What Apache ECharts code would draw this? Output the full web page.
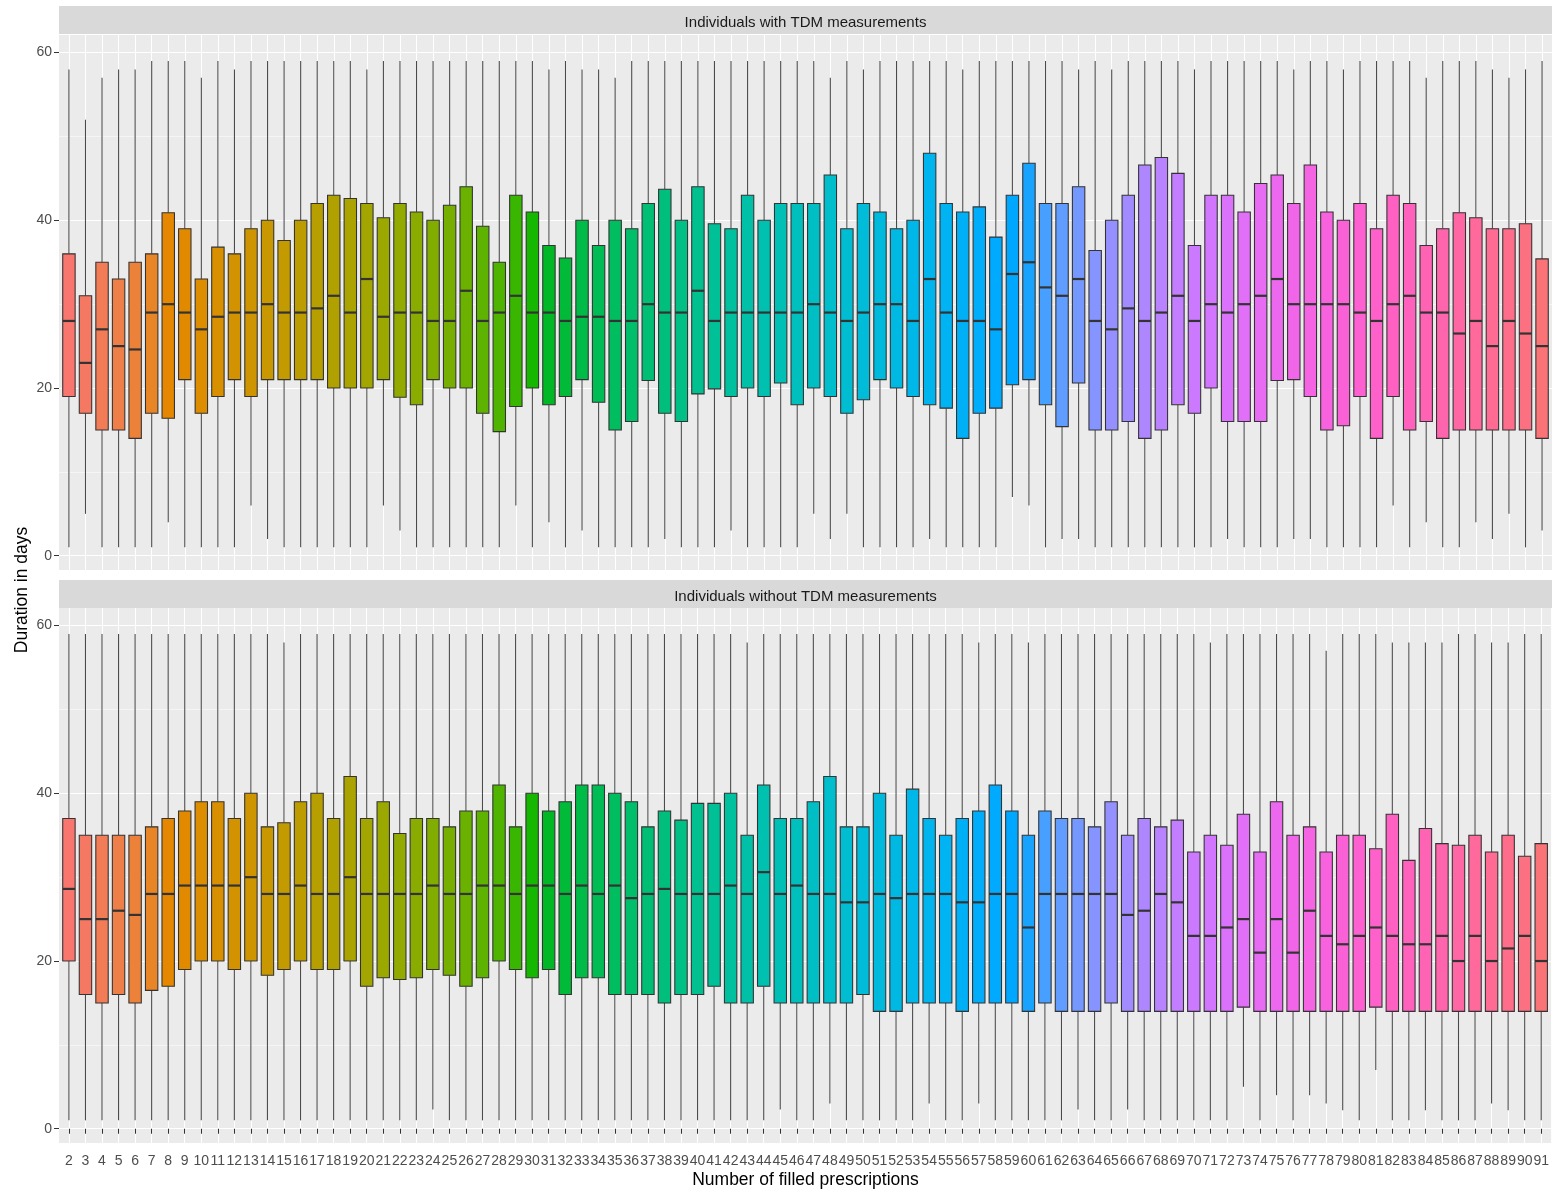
<!DOCTYPE html>
<html>
<head>
<meta charset="utf-8">
<script src="https://cdn.jsdelivr.net/npm/echarts@6/dist/echarts.min.js"></script>
<style>
html,body{margin:0;padding:0;background:#ffffff;}
#chart{width:1552px;height:1192px;}
</style>
</head>
<body>
<div id="chart"></div>
<script>
// ---------------- DATA ----------------
const categories = [
  2,3,4,5,6,7,8,9,10,11,
  12,13,14,15,16,17,18,19,20,21,
  22,23,24,25,26,27,28,29,30,31,
  32,33,34,35,36,37,38,39,40,41,
  42,43,44,45,46,47,48,49,50,51,
  52,53,54,55,56,57,58,59,60,61,
  62,63,64,65,66,67,68,69,70,71,
  72,73,74,75,76,77,78,79,80,81,
  82,83,84,85,86,87,88,89,90,91
];
const yTicks = [0, 20, 40, 60];
const yMinorTicks = [10, 30, 50];
const panelTitles = ['Individuals with TDM measurements', 'Individuals without TDM measurements'];
const xTitle = 'Number of filled prescriptions';
const yTitle = 'Duration in days';

// Panel 1: individuals with TDM measurements
const withLow = [
  1,5,1,1,1,1,4,1,1,1,
  1,6,2,1,1,1,1,1,1,6,
  3,1,1,1,1,1,1,6,1,4,
  1,3,1,1,1,1,2,1,1,1,
  3,1,1,1,1,5,2,5,1,1,
  1,1,2,1,1,1,1,7,6,1,
  2,2,1,1,1,1,1,1,1,1,
  2,1,1,1,2,2,1,1,1,1,
  6,1,4,1,1,4,2,5,1,3
];
const withQ1 = [
  19,17,15,15,14,17,16.4,21,17,19,
  21,19,21,21,21,21,20,20,20,21,
  18.9,18,21,20,20,17,14.8,17.8,20,18,
  19,21,18.3,15,16,20.9,17,16,19.3,19.9,
  19,20,19,20.6,18,20,19,17,18.6,21,
  20,19,18,17.6,14,17,17.6,20.4,21,18,
  15.4,20.6,15,15,16,14,15,18,17,20,
  16,16,16,20.9,21,19,15,15.5,19,14,
  19,15,16,14,15,15,15,15,15,14
];
const withMedian = [
  28,23,27,25,24.6,29,30,29,27,28.5,
  29,29,30,29,29,29.5,31,29,33,28.5,
  29,29,28,28,31.6,28,29,31,29,29,
  28,28.5,28.5,28,28,30,29,29,31.6,28,
  29,29,29,29,29,30,29,28,29,30,
  30,28,33,29,28,28,27,33.6,35,32,
  31,33,28,27,29.5,28,29,31,28,30,
  29,30,31,33,30,30,30,30,29,28,
  30,31,29,29,26.5,28,25,28,26.5,25
];
const withQ3 = [
  36,31,35,33,35,36,40.9,39,33,36.8,
  36,39,40,37.6,40,42,43,42.6,42,40.3,
  42,41,40,41.8,44,39.3,35,43,41,37,
  35.5,40,37,40,39,42,43.7,40,44,39.6,
  39,43,40,42,42,42,45.4,39,42,41,
  39,40,48,42,41,41.6,38,43,46.8,42,
  42,44,36.4,40,43,46.6,47.5,45.6,37,43,
  43,41,44.4,45.4,42,46.6,41,40,42,39,
  43,42,37,39,40.9,40.3,39,39,39.6,35.4
];
const withHigh = [
  58,52,57,58,58,59,59,59,57,59,
  58,59,59,59,59,59,59,59,58,59,
  59,59,59,59,59,59,59,59,59,58,
  59,58,58,57,59,59,59,59,59,59,
  59,59,59,59,59,59,57,59,58,59,
  59,59,59,59,58,59,59,59,59,59,
  59,58,59,58,59,59,59,59,58,59,
  59,59,59,59,58,59,59,58,59,59,
  59,59,57,59,59,59,58,57,58,59
];

// Panel 2: individuals without TDM measurements
const withoutLow = [
  1,1,1,1,1,1,1,1,1,1,
  1,1,1,1,1,1,1,1,1,1,
  1,1,2.3,1,1,1,1,1,1,1,
  1,1,1,1,1,1,1,1,1,1,
  1,1,1,2.3,1,1,3,1,1,1,
  1,1,3,1,1,3,1,1,1,1,
  1,2.3,1,1,2.3,1,1,1,1,1,
  1,5,1,4,1,4,3,2.2,1,7,
  1,1,2.2,1,1,1,3,2.2,1,1
];
const withoutQ1 = [
  20,16,15,16,15,16.5,17,19,20,20,
  19,20,18.3,19,20,19,19,20,17,18,
  17.8,18,19,18.3,17,18,20,19,18,19,
  16,18,18,16,16,16,15,16,16,17,
  15,15,17,15,15,15,15,15,16,14,
  14,15,15,15,14,15,15,15,14,15,
  14,14,14,15,14,14,14,14,14,14,
  14,14.5,14,14,14,14,14,14,14,14.5,
  14,14,14,14,14,14,14,14,14,14
];
const withoutMedian = [
  28.6,25,25,26,25.5,28,28,29,29,29,
  29,30,28,28,29,28,28,30,28,28,
  28,28,29,28,28,29,29,28,29,29,
  28,29,28,29,27.5,28,28.6,28,28,28,
  29,28,30.6,28,29,28,28,27,27,28,
  27.5,28,28,28,27,27,28,28,24,28,
  28,28,28,28,25.5,26,28,27,23,23,
  24,25,21,25,21,26,23,22,23,24,
  23,22,22,23,20,23,20,21.5,23,20
];
const withoutQ3 = [
  37,35,35,35,35,36,37,37.9,39,39,
  37,40,36,36.5,39,40,37,42,37,39,
  35.2,37,37,36,37.9,37.9,41,36,40,37.9,
  39,41,41,40,39,36,37.9,36.8,38.8,38.8,
  40,35,41,37,37,39,42,36,36,40,
  35,40.5,37,35,37,37.9,41,37.9,35,37.9,
  37,37,36,39,35,37,36,36.8,33,35,
  33.8,37.5,33,39,35,36,33,35,35,33.4,
  37.5,32,35.8,34,33.8,35,33,35,32.5,34
];
const withoutHigh = [
  59,59,59,59,59,59,59,59,59,59,
  59,59,59,58,59,59,59,59,59,59,
  59,59,59,59,59,59,59,59,59,59,
  59,59,59,59,59,59,59,59,59,59,
  59,58,59,59,59,59,59,59,59,59,
  59,59,59,59,59,58,59,59,58,59,
  59,59,59,59,59,59,59,59,59,58,
  59,59,59,59,59,59,57,59,59,59,
  58,58,58,58,59,59,58,58,59,59
];

// ---------------- COLOURS (ggplot2 hue palette, hcl l=65 c=100) ----------------
function hclHex(h, c, l) {
  const WY = 100, Wu = 0.1978398, Wv = 0.4683363;
  const hr = h * Math.PI / 180;
  const U = c * Math.cos(hr), V = c * Math.sin(hr);
  const Y = WY * (l > 7.999592 ? Math.pow((l + 16) / 116, 3) : l / 903.3);
  const u = U / (13 * l) + Wu;
  const v = V / (13 * l) + Wv;
  const X = 9.0 * Y * u / (4 * v);
  const Z = -X / 3 - 5 * Y + 3 * Y / v;
  const g = t => (t > 0.00304 ? 1.055 * Math.pow(t, 1 / 2.4) - 0.055 : 12.92 * t);
  const r = g((3.240479 * X - 1.537150 * Y - 0.498535 * Z) / WY);
  const gg = g((-0.969256 * X + 1.875992 * Y + 0.041556 * Z) / WY);
  const b = g((0.055648 * X - 0.204043 * Y + 1.057311 * Z) / WY);
  const to = t => {
    const x = Math.round(Math.min(1, Math.max(0, isNaN(t) ? 0 : t)) * 255);
    return (x < 16 ? '0' : '') + x.toString(16);
  };
  return '#' + to(r) + to(gg) + to(b);
}
const nCat = categories.length;
const fills = categories.map((_, i) => hclHex(15 + 360 * i / nCat, 100, 65));

// ---------------- LAYOUT ----------------
const FONT = '"Liberation Sans", Arial, Helvetica, sans-serif';
const gridLeft = 59, gridWidth = 1493, gridHeight = 535;
const gridTops = [35, 608];
const stripTops = [6, 580], stripH = 28;
const yMin = -1.7, yMax = 62.1;
const xMin = 1.4, xMax = 91.6;

function rows(lo, q1, med, q3, hi) {
  return categories.map((c, i) => [c, lo[i], q1[i], med[i], q3[i], hi[i]]);
}
const panelData = [
  rows(withLow, withQ1, withMedian, withQ3, withHigh),
  rows(withoutLow, withoutQ1, withoutMedian, withoutQ3, withoutHigh)
];

function renderBox(params, api) {
  const x = api.value(0);
  const pLo = api.coord([x, api.value(1)]);
  const pQ1 = api.coord([x, api.value(2)]);
  const pMed = api.coord([x, api.value(3)]);
  const pQ3 = api.coord([x, api.value(4)]);
  const pHi = api.coord([x, api.value(5)]);
  const w = api.size([0.75, 0])[0];
  const cx = pMed[0];
  const stroke = '#333333';
  return {
    type: 'group',
    children: [
      { type: 'line', shape: { x1: cx, y1: pLo[1], x2: cx, y2: pQ1[1] }, style: { stroke: '#4a4a4a', lineWidth: 1.07 } },
      { type: 'line', shape: { x1: cx, y1: pQ3[1], x2: cx, y2: pHi[1] }, style: { stroke: '#4a4a4a', lineWidth: 1.07 } },
      { type: 'rect', shape: { x: cx - w / 2, y: pQ3[1], width: w, height: pQ1[1] - pQ3[1] },
        style: { fill: fills[params.dataIndex], stroke: stroke, lineWidth: 1.07 } },
      { type: 'line', shape: { x1: cx - w / 2, y1: pMed[1], x2: cx + w / 2, y2: pMed[1] }, style: { stroke: stroke, lineWidth: 2.2 } }
    ]
  };
}

const grids = [], xAxes = [], yAxes = [], series = [], graphics = [];
for (let p = 0; p < 2; p++) {
  grids.push({ left: gridLeft, top: gridTops[p], width: gridWidth, height: gridHeight,
    show: true, backgroundColor: '#EBEBEB', borderWidth: 0, containLabel: false });
  const bottom = p === 1;
  xAxes.push({
    type: 'value', gridIndex: p, min: xMin, max: xMax,
    axisLine: { show: false },
    axisTick: { show: bottom, customValues: categories, length: 5, lineStyle: { color: '#333333', width: 1 } },
    axisLabel: { show: bottom, customValues: categories, color: '#4D4D4D', fontSize: 14, fontFamily: FONT, margin: 11,
      formatter: v => String(v), hideOverlap: false },
    splitLine: { show: true, lineStyle: { color: '#FFFFFF', width: 1.07 } }
  });
  yAxes.push({
    type: 'value', gridIndex: p, min: yMin, max: yMax, position: 'left',
    axisLine: { show: false },
    axisTick: { show: true, customValues: yTicks, length: 5, lineStyle: { color: '#333333', width: 1 } },
    axisLabel: { show: true, customValues: yTicks, color: '#4D4D4D', fontSize: 14, fontFamily: FONT, margin: 7 },
    splitLine: { show: true, lineStyle: { color: '#FFFFFF', width: 1.07 } }
  });
  yAxes.push({
    type: 'value', gridIndex: p, min: yMin, max: yMax, position: 'left',
    axisLine: { show: false },
    axisTick: { show: false, customValues: yMinorTicks },
    axisLabel: { show: false, customValues: yMinorTicks },
    splitLine: { show: true, lineStyle: { color: '#FFFFFF', width: 0.53 } }
  });
  series.push({
    type: 'custom', xAxisIndex: p, yAxisIndex: 2 * p,
    encode: { x: 0, y: [1, 2, 3, 4, 5] },
    data: panelData[p], renderItem: renderBox, silent: true, clip: false
  });
  graphics.push({ type: 'rect', x: gridLeft, y: stripTops[p], shape: { width: gridWidth, height: stripH },
    style: { fill: '#D9D9D9' }, silent: true });
  graphics.push({ type: 'text', x: gridLeft + gridWidth / 2, y: stripTops[p] + 17,
    style: { text: panelTitles[p], fill: '#1A1A1A', font: '15px ' + FONT, textAlign: 'center', textVerticalAlign: 'middle' },
    silent: true });
}
graphics.push({ type: 'text', x: gridLeft + gridWidth / 2, y: 1180,
  style: { text: xTitle, fill: '#000000', font: '17.5px ' + FONT, textAlign: 'center', textVerticalAlign: 'middle' }, silent: true });
graphics.push({ type: 'text', x: 22, y: 590, rotation: Math.PI / 2,
  style: { text: yTitle, fill: '#000000', font: '17.5px ' + FONT, textAlign: 'center', textVerticalAlign: 'middle' }, silent: true });

const chart = echarts.init(document.getElementById('chart'), null, { renderer: 'canvas' });
chart.setOption({
  animation: false,
  backgroundColor: '#FFFFFF',
  grid: grids,
  xAxis: xAxes,
  yAxis: yAxes,
  series: series,
  graphic: graphics
});
</script>
</body>
</html>
